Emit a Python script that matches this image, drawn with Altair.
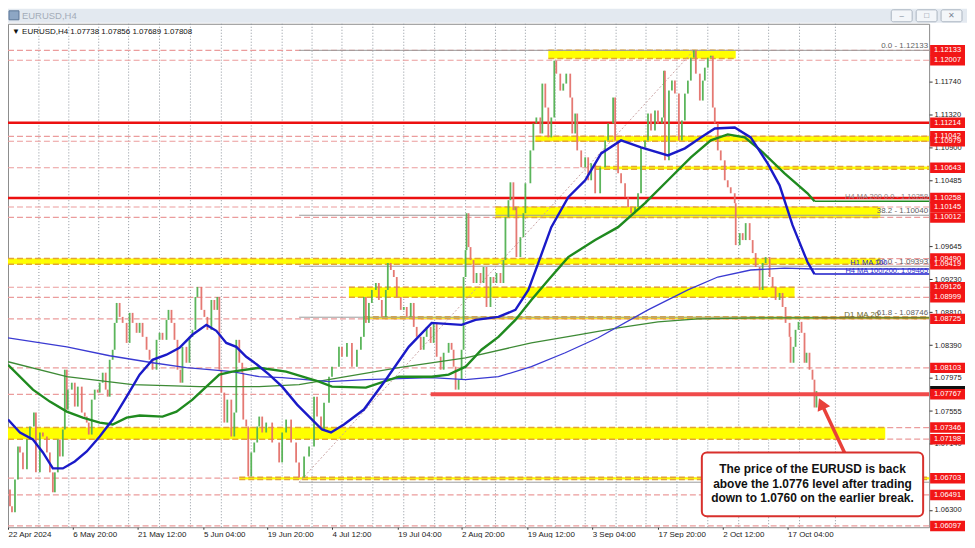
import altair as alt
import pandas as pd

# ---------------- price path (H4 bars counted from 22 Apr 2024) ----------------
BAR = [0,2,4,7,10,12,15,19,22,26,28,32,35,39,42,45,47,50,52,55,57,59,60,64,67,70,74,77,79,81,84,87,90,92,95,98,100,
       102,105,107,109,112,115,119,122,125,129,132,135,139,142,145,149,152,155,159,161,164,167,170,173,175,179,182,185,
       188,190,194,197,200,204,207,210,212,214,217,220,224,227,229,232,235,236,239,241,244,247,250,252,255,259,265,272,
       275,279,284,289,292,297,302,307,310,314,317,322,325,332,335,340,345,350,354,357,359,362,365,369,372,375,379,381,
       384,387,390,394,397,400,404,407,410,414,417,420,424,427,430,434,437,442,445,447,449,452,455,457,459,460,462,464,
       467,470,474,477,480,484,487,490,494,497,499,502,504,507,509,510,514,517,519,524,527,530,534,536,539,542,545,548,
       550,554,557,560,564,566,569,571,575,579,582,585,589,594,599,602,607,609,612,615,619,622,625,629,632,635,639,642,
       645,649,652,656,658,659,663,666,669,673,676,679,682,685,688,690,694,697,699,702,705,707,709,712,715,719,722,725,
       729,730,734,737,740,744,747,750,754,757,760,764,767,770,774,777,780,784,785,788,790,793,796,799,801,804,807,809,811]
CLOSE = [1.06561,1.06346,1.06271,1.06688,1.07106,1.07030,1.06815,1.07194,1.07359,1.07536,1.06777,1.07283,1.07232,
         1.07030,1.06777,1.06524,1.06777,1.07194,1.06979,1.07321,1.08080,1.07574,1.07827,1.07915,1.07612,1.07865,
         1.07536,1.07485,1.07409,1.07257,1.07700,1.07827,1.07789,1.07915,1.08042,1.07827,1.07738,
         1.08206,1.08333,1.08674,1.08927,1.08750,1.08674,1.08420,1.08801,1.08674,1.08548,1.08674,1.08497,1.08333,
         1.08206,1.08080,1.08459,1.08548,1.08459,1.08712,1.08839,1.08674,1.08459,1.08080,1.07915,1.08370,1.08168,
         1.08497,1.08586,
         1.09003,1.09130,1.08839,1.08750,1.08586,1.08965,1.08839,1.09003,1.08080,1.07789,1.07409,1.07700,1.07232,
         1.07536,1.08459,1.08168,1.08042,1.07447,1.07359,1.06726,1.07030,1.07156,1.07359,1.07485,1.07283,1.07409,
         1.07156,1.06903,
         1.07283,1.07447,1.07156,1.06903,1.06713,1.06979,1.07106,1.07738,1.07485,1.07321,1.07662,1.07991,1.08118,
         1.08370,1.08244,1.08420,1.08118,1.08333,1.08497,1.09003,1.08674,1.08927,1.09092,1.09180,1.08965,1.08750,
         1.09092,1.09434,
         1.09345,1.09256,1.09003,1.08839,1.08876,1.08750,1.08927,1.08623,1.08497,1.08333,1.08497,1.08623,1.08420,
         1.08674,1.08244,1.08080,1.08295,1.08420,1.08333,1.08118,1.07827,1.07953,1.08333,1.09256,1.09598,1.10066,
         1.09636,1.09471,
         1.09180,1.09307,1.09180,1.09383,1.08876,1.09256,1.09180,1.09307,1.09180,1.09471,1.10016,1.10231,1.10458,
         1.10104,1.10142,1.09509,1.09762,1.10066,1.10446,1.10863,1.11205,1.11281,1.11078,1.11711,1.11407,1.11028,
         1.11281,1.12002,
         1.11837,1.11622,1.11711,1.11837,1.11534,1.11078,1.11331,1.10863,1.10648,1.10775,1.10484,1.10699,1.10319,
         1.10648,1.10990,1.11205,1.11534,1.10990,1.10572,1.10446,1.10269,1.10142,1.10066,1.10142,1.10319,1.10901,
         1.10990,1.11331,
         1.11116,1.11369,1.11205,1.11281,1.11875,1.10737,1.11622,1.11749,1.11584,1.10990,1.11243,1.11584,1.11749,
         1.12040,1.12133,1.11837,1.11496,1.11749,1.11913,1.12040,1.12065,1.11407,1.11205,1.10863,1.10737,1.10484,
         1.10395,1.10319,
         1.10193,1.09661,1.09813,1.09725,1.09940,1.09725,1.09560,1.09383,1.09092,1.09434,1.09509,1.09256,1.09130,
         1.08965,1.09054,1.08876,1.08674,1.08497,1.08168,1.08370,1.08586,1.08687,1.08548,1.08168,1.08295,1.08080,
         1.07953,1.07600,1.07808]

# ---------------- moving averages ----------------
H4_MA100_BAR = [0,12,25,35,45,55,67,79,92,105,119,132,145,159,172,185,199,209,219,229,239,250,262,275,290,305,315,324,
                337,357,379,402,425,455,469,492,509,522,533,545,562,579,595,615,635,662,679,695,709,729,745,762,774,
                787,802,809]
H4_MA100 = [1.07447,1.07283,1.07194,1.07030,1.06827,1.06827,1.06916,1.07042,1.07232,1.07447,1.07738,1.08017,1.08206,
            1.08270,1.08357,1.08523,1.08649,1.08573,1.08420,1.08370,1.08244,1.08143,1.08017,1.07865,1.07637,1.07447,
            1.07321,1.07283,1.07384,1.07574,1.07953,1.08370,1.08674,1.08649,1.08712,1.08750,1.08839,1.09092,1.09471,
            1.09889,1.10269,1.10484,1.10825,1.10990,1.10901,1.10800,1.10889,1.11028,1.11141,1.11154,1.11028,1.10699,
            1.10420,1.09914,1.09446,1.09294]
H4_MA200_BAR = [0,25,42,59,75,92,105,119,132,155,169,185,199,212,225,252,279,312,325,359,392,425,442,459,475,492,509,
                525,542,562,589,612,639,662,685,705,722,739,755,779,802,809]
H4_MA200 = [1.08143,1.07827,1.07675,1.07548,1.07472,1.07409,1.07384,1.07472,1.07498,1.07485,1.07548,1.07700,1.07865,
            1.08017,1.08055,1.08105,1.08055,1.07928,1.07865,1.07852,1.07991,1.07991,1.08017,1.08118,1.08333,1.08497,
            1.08712,1.08965,1.09218,1.09509,1.09725,1.09889,1.10193,1.10484,1.10775,1.10990,1.11066,1.11028,1.10863,
            1.10572,1.10319,1.10218]
D1_BLUE_BAR = [0,59,102,145,179,225,252,275,322,359,425,459,492,525,559,592,642,682,712,745,779,809]
D1_BLUE = [1.08485,1.08370,1.08257,1.08168,1.08105,1.08055,1.07991,1.07979,1.07928,1.07953,1.07979,1.07953,1.07991,
           1.08118,1.08295,1.08485,1.08839,1.09092,1.09256,1.09345,1.09370,1.09358]
D1_GREEN_BAR = [0,59,125,192,252,292,392,459,525,572,612,652,692,752,809]
D1_GREEN = [1.08181,1.07991,1.07890,1.07865,1.07865,1.07890,1.08105,1.08231,1.08420,1.08523,1.08611,1.08687,1.08725,
            1.08737,1.08737]
MA_END_BAR = 809
MA_LAST = [1.09294, 1.10218, 1.09358, 1.08737]
MA_LAST_COLORS = ["#1a1ac8", "#1f8a1f", "#3a3ad2", "#5a6e2a"]

# ---------------- levels, zones, fibonacci ----------------
LEVELS = [1.12133, 1.12007, 1.11214, 1.11042, 1.10979, 1.10643, 1.10258, 1.10145, 1.10012, 1.09490, 1.09419,
          1.09126, 1.08999, 1.08725, 1.08103, 1.07767, 1.07346, 1.07198, 1.06703, 1.06491, 1.06097]
CURRENT = 1.07808
PINK_LEVELS = [1.12133, 1.12007, 1.11042, 1.10979, 1.10643, 1.10145, 1.10012, 1.09490, 1.09419, 1.09126, 1.08999,
               1.08725, 1.08103, 1.07767, 1.07346, 1.07198, 1.06703, 1.06491, 1.06097]
RED_LEVELS = [1.11214, 1.10258]
KEY_LEVEL = 1.07767
KEY_FROM_BAR = 424
LAST_BAR = 924

BAND_LO = [1.12030, 1.10979, 1.10625, 1.10012, 1.09419, 1.08999, 1.08725, 1.07198, 1.06685]
BAND_HI = [1.12133, 1.11042, 1.10660, 1.10145, 1.09490, 1.09126, 1.08752, 1.07346, 1.06715]
BAND_FROM = [542, 529, 589, 489, 0, 342, 357, 0, 232]
BAND_TO = [730, 924, 924, 875, 875, 789, 924, 880, 924]

FIB_LEVELS = [1.12133, 1.10040, 1.09393, 1.08746, 1.06652]
FIB_NAMES = ["0.0", "38.2", "50.0", "61.8", "100.0"]
FIB_LABELLED = 4          # the 100.0 label sits behind the note box in the reference
FIB_FROM_BAR = 292
FIB_DIAG_BAR = [292, 688]
FIB_DIAG_PRICE = [1.06652, 1.12133]

# ---------------- axes ----------------
GRID_BARS = [31, 61, 91, 121, 152, 183, 214, 244, 275, 305, 335, 366, 397, 428, 459, 489, 519, 549, 579, 610, 640,
             671, 702, 733, 763, 794, 830]
XTICK_BARS = [0, 65, 130, 196, 260, 325, 391, 455, 521, 586, 652, 717, 782]
XTICK_LABELS = ["22 Apr 2024", "6 May 20:00", "21 May 12:00", "5 Jun 04:00", "19 Jun 20:00", "4 Jul 12:00",
                "19 Jul 04:00", "2 Aug 20:00", "19 Aug 12:00", "3 Sep 04:00", "17 Sep 20:00", "2 Oct 12:00",
                "17 Oct 04:00"]
# scale labels that stay visible between the red level tags
YTICKS = [1.06300, 1.07140, 1.07555, 1.07975, 1.08390, 1.08810, 1.09230, 1.09645, 1.10485,
          1.10900, 1.11320, 1.11740]
Y_DOMAIN = [1.06081, 1.12470]

# ---------------- annotation ----------------
NOTE_LINES = ["The price of the EURUSD is back", "above the 1.0776 level after trading",
              "down to 1.0760 on the earlier break."]
NOTE_LINE_PRICE = [1.06815, 1.06625, 1.06448]
NOTE_BOX = dict(x0=696, x1=918, top=1.07030, bottom=1.06220)
NOTE_CENTER_BAR = 807
ARROW_BAR = [840, 816]
ARROW_PRICE = [1.07004, 1.07650]
HEADER = "\u25BC EURUSD,H4  1.07738 1.07856 1.07689 1.07808"

FONT = "Liberation Sans"

# ---------------- scales / helpers ----------------
xs = alt.Scale(domain=[0, LAST_BAR], nice=False, zero=False)
ys = alt.Scale(domain=Y_DOMAIN, nice=False, zero=False)

label_expr = " : ".join(f"datum.value == {b} ? '{l}'" for b, l in zip(XTICK_BARS, XTICK_LABELS)) + " : ''"
x_axis = alt.Axis(values=XTICK_BARS, labelExpr=label_expr, orient="bottom", title=None, grid=False,
                  labelAlign="left", labelFontSize=8, labelFont=FONT, labelColor="#222", tickSize=2,
                  tickColor="#333", domain=False, labelPadding=1, labelOverlap=False, labelFlush=False,
                  labelBound=False)
y_axis = alt.Axis(values=YTICKS, format=".5f", orient="right", title=None, grid=False, labelFontSize=7.5,
                  labelFont=FONT, labelColor="#222", tickSize=3, tickColor="#333", domain=False,
                  labelPadding=2, labelOverlap=False, labelFlush=False, labelAlign="left", labelBaseline="middle")


def X(f):
    return alt.X(f"{f}:Q", scale=xs, axis=x_axis)


def Y(f):
    return alt.Y(f"{f}:Q", scale=ys, axis=y_axis)


layers = []

# window chrome (title bar)
layers.append(alt.Chart(pd.DataFrame({"a": [0]})).mark_rect(fill="#e3e9f0").encode(
    x=alt.value(0), x2=alt.value(962), y=alt.value(-15), y2=alt.value(-1)))
layers.append(alt.Chart(pd.DataFrame({"a": [0]})).mark_rect(fill="#8da6c4", stroke="#5c7697").encode(
    x=alt.value(1), x2=alt.value(11), y=alt.value(-13), y2=alt.value(-4)))
layers.append(alt.Chart(pd.DataFrame({"t": ["EURUSD,H4"]})).mark_text(
    align="left", baseline="middle", fontSize=9.5, font=FONT, color="#a3acb8").encode(
    x=alt.value(14), y=alt.value(-8), text="t:N"))
BTN_X = [886, 911, 936]
BTN_GLYPH = ["\u2013", "\u25A1", "\u2715"]
for i in range(3):
    layers.append(alt.Chart(pd.DataFrame({"a": [0]})).mark_rect(
        fill="#f3f6f9", stroke="#aab4c0", cornerRadius=2).encode(
        x=alt.value(BTN_X[i]), x2=alt.value(BTN_X[i] + 21), y=alt.value(-14), y2=alt.value(-2)))
    layers.append(alt.Chart(pd.DataFrame({"t": [BTN_GLYPH[i]]})).mark_text(
        align="center", baseline="middle", fontSize=8, color="#7b8796").encode(
        x=alt.value(BTN_X[i] + 10.5), y=alt.value(-8), text="t:N"))

# vertical dotted grid
layers.append(alt.Chart(pd.DataFrame({"bar": GRID_BARS})).mark_rule(
    color="#8f969e", strokeDash=[1, 2], strokeWidth=1).encode(x=X("bar")))

# pink dashed level lines
layers.append(alt.Chart(pd.DataFrame({"price": PINK_LEVELS})).mark_rule(
    color="#eb9c9c", strokeDash=[6, 3], strokeWidth=1.2).encode(y=Y("price")))

# yellow zones
bands_df = pd.DataFrame({"lo": BAND_LO, "hi": BAND_HI, "x0": BAND_FROM, "x1": BAND_TO})
layers.append(alt.Chart(bands_df).mark_rect(color="#ffff00").encode(
    x=X("x0"), x2=alt.X2("x1"), y=Y("lo"), y2=alt.Y2("hi")))
edge_rows = []
for lo, hi, a, b in zip(BAND_LO, BAND_HI, BAND_FROM, BAND_TO):
    edge_rows.append({"x0": a, "x1": b, "price": lo})
    edge_rows.append({"x0": a, "x1": b, "price": hi})
layers.append(alt.Chart(pd.DataFrame(edge_rows)).mark_rule(
    color="#e3a534", strokeDash=[6, 3], strokeWidth=1.5).encode(
    x=X("x0"), x2=alt.X2("x1"), y=Y("price")))

# fibonacci
fib_df = pd.DataFrame({"price": FIB_LEVELS, "x0": [FIB_FROM_BAR] * 5, "x1": [LAST_BAR] * 5})
fib_lab = pd.DataFrame({"price": FIB_LEVELS[:FIB_LABELLED],
                        "label": [f"{n} - {v:.5f}" for n, v in zip(FIB_NAMES, FIB_LEVELS)][:FIB_LABELLED],
                        "lx": [LAST_BAR - 1] * FIB_LABELLED})
layers.append(alt.Chart(fib_df).mark_rule(color="#9c9c9c", strokeWidth=1).encode(
    x=X("x0"), x2=alt.X2("x1"), y=Y("price")))
layers.append(alt.Chart(pd.DataFrame({"bar": FIB_DIAG_BAR, "price": FIB_DIAG_PRICE})).mark_line(
    color="#c9a3a3", strokeDash=[2, 2], strokeWidth=1).encode(x=X("bar"), y=Y("price")))

# red solid levels
layers.append(alt.Chart(pd.DataFrame({"price": RED_LEVELS})).mark_rule(
    color="#ec1010", strokeWidth=2.5).encode(y=Y("price")))

# candles
opens = [CLOSE[0]] + CLOSE[:-1]
candles = pd.DataFrame({"bar": BAR, "open": opens, "close": CLOSE,
                        "dir": ["up" if c >= o else "down" for o, c in zip(opens, CLOSE)]})
layers.append(alt.Chart(candles).mark_rule(strokeWidth=1.8, opacity=0.95).encode(
    x=X("bar"), y=Y("open"), y2=alt.Y2("close"),
    color=alt.Color("dir:N", scale=alt.Scale(domain=["up", "down"], range=["#52b152", "#e4726c"]), legend=None)))

# moving averages
for bars, vals, col, w in [(D1_GREEN_BAR, D1_GREEN, "#3d8a35", 1.3), (D1_BLUE_BAR, D1_BLUE, "#3a3ad2", 1.3),
                           (H4_MA200_BAR, H4_MA200, "#1f8a1f", 2.4), (H4_MA100_BAR, H4_MA100, "#1a1ac8", 2.4)]:
    layers.append(alt.Chart(pd.DataFrame({"bar": bars, "price": vals})).mark_line(
        color=col, strokeWidth=w).encode(x=X("bar"), y=Y("price")))
ext_df = pd.DataFrame({"price": MA_LAST, "x0": [MA_END_BAR] * 4, "x1": [LAST_BAR] * 4, "col": MA_LAST_COLORS})
layers.append(alt.Chart(ext_df).mark_rule(strokeWidth=1.4).encode(
    x=X("x0"), x2=alt.X2("x1"), y=Y("price"), color=alt.Color("col:N", scale=None)))

# key level line
layers.append(alt.Chart(pd.DataFrame({"price": [KEY_LEVEL], "x0": [KEY_FROM_BAR], "x1": [LAST_BAR]})).mark_rule(
    color="#f04a4a", strokeWidth=4).encode(x=X("x0"), x2=alt.X2("x1"), y=Y("price")))

# object labels
layers.append(alt.Chart(fib_lab).mark_text(align="right", baseline="bottom", fontSize=8, font=FONT,
                                           color="#5f5f5f").encode(x=X("lx"), y=Y("price"), text="label:N"))
ma_right = pd.DataFrame({"bar": [LAST_BAR - 1, LAST_BAR - 1],
                         "price": [1.10258, 1.09320],
                         "t": ["H4 MA 200 0.0 - 1.10258", "H4 MA 100/200: 1.09465"],
                         "col": ["#8f8080", "#2b2bd0"]})
layers.append(alt.Chart(ma_right).mark_text(align="right", baseline="middle", fontSize=7.5, font=FONT, dy=-1).encode(
    x=X("bar"), y=Y("price"), text="t:N", color=alt.Color("col:N", scale=None)))
layers.append(alt.Chart(pd.DataFrame({"bar": [845], "price": [1.09440], "t": ["H1 MA 100"]})).mark_text(
    align="left", baseline="middle", fontSize=7.5, font=FONT, color="#2b2bd0").encode(
    x=X("bar"), y=Y("price"), text="t:N"))
layers.append(alt.Chart(pd.DataFrame({"bar": [874], "price": [1.08737], "t": ["D1 MA 20"]})).mark_text(
    align="right", baseline="bottom", fontSize=8, font=FONT, color="#6e6a2c", dy=1).encode(
    x=X("bar"), y=Y("price"), text="t:N"))

# price labels on the right axis
BOX = "M-1,-0.3L1,-0.3L1,0.3L-1,0.3Z"
layers.append(alt.Chart(pd.DataFrame({"price": [CURRENT]})).mark_point(
    shape=BOX, size=1225, filled=True, color="#111111", opacity=1, strokeWidth=0).encode(
    x=alt.value(942.5), y=Y("price")))
lvl_df = pd.DataFrame({"price": LEVELS, "label": [f"{v:.5f}" for v in LEVELS]})
layers.append(alt.Chart(lvl_df).mark_point(
    shape=BOX, size=1225, filled=True, color="#f21616", opacity=1, strokeWidth=0).encode(
    x=alt.value(942.5), y=Y("price")))
layers.append(alt.Chart(lvl_df).mark_text(
    align="center", baseline="middle", fontSize=7.5, font=FONT, color="white").encode(
    x=alt.value(942.5), y=Y("price"), text="label:N"))

# arrow
layers.append(alt.Chart(pd.DataFrame({"bar": ARROW_BAR, "price": ARROW_PRICE})).mark_line(
    color="#e8413a", strokeWidth=3.5).encode(x=X("bar"), y=Y("price")))
layers.append(alt.Chart(pd.DataFrame({"bar": [ARROW_BAR[1]], "price": [ARROW_PRICE[1]]})).mark_point(
    shape="triangle-up", size=190, filled=True, color="#e8413a", opacity=1, angle=335.5).encode(
    x=X("bar"), y=Y("price")))

# annotation box
layers.append(alt.Chart(pd.DataFrame([NOTE_BOX])).mark_rect(
    fill="white", stroke="#d8302c", strokeWidth=2, cornerRadius=5).encode(
    x=X("x0"), x2=alt.X2("x1"), y=Y("top"), y2=alt.Y2("bottom")))
layers.append(alt.Chart(pd.DataFrame({"bar": [NOTE_CENTER_BAR] * 3, "price": NOTE_LINE_PRICE,
                                      "t": NOTE_LINES})).mark_text(
    align="center", baseline="middle", fontSize=12, fontWeight="bold", font=FONT, color="#111").encode(
    x=X("bar"), y=Y("price"), text="t:N"))

# chart header
layers.append(alt.Chart(pd.DataFrame({"t": [HEADER]})).mark_text(
    align="left", baseline="middle", fontSize=8, font=FONT, color="#111").encode(
    x=alt.value(4), y=alt.value(8), text="t:N"))

chart = alt.layer(*layers).properties(
    width=924, height=505,
    padding={"left": 0, "top": 15, "right": 38, "bottom": 10},
    autosize=alt.AutoSizeParams(type="none"),
    background="white",
).configure_view(stroke="#8c8c8c", strokeWidth=1)

chart.save("out.html", embed_options={"renderer": "svg", "actions": False})
